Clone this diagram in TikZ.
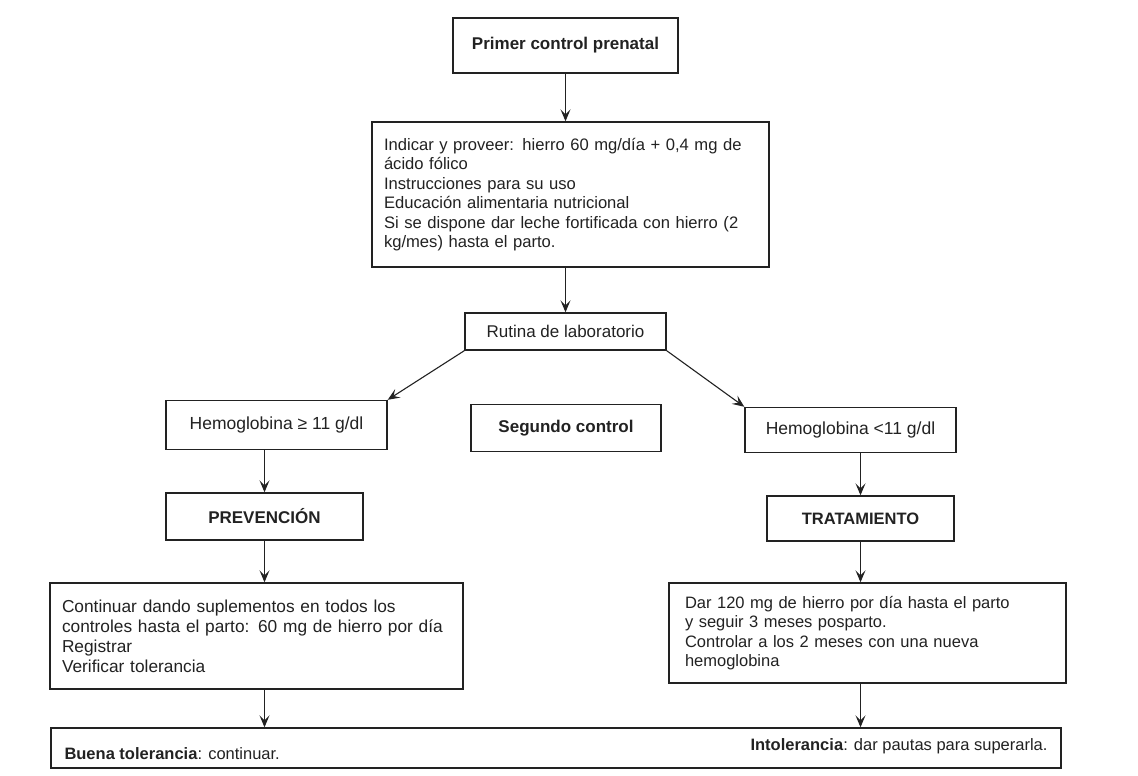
\documentclass[tikz,border=0pt]{standalone}
\usepackage{fontspec}
\setmainfont{Liberation Sans}
\usepackage{xcolor}
\usepackage{tikz}
\usetikzlibrary{arrows.meta, positioning}
\definecolor{inkgray}{RGB}{34,34,34}

\begin{document}
\begin{tikzpicture}[
  x=1pt, y=-1pt,
  flowbox/.style={rectangle, draw=inkgray, line width=1.4pt, inner sep=0pt, text=inkgray,
               font=\fontsize{17}{20}\selectfont},
  titlebox/.style={flowbox, font=\fontsize{17}{20}\selectfont\bfseries},
  listbox/.style={flowbox, align=left, inner xsep=12pt},
  labeltext/.style={text=inkgray, inner sep=0pt, font=\fontsize{16.5}{19}\selectfont},
  arrow/.style={-{Stealth[length=12pt, width=10pt, inset=5pt]}, line width=1.1pt, color=inkgray}
]
\useasboundingbox[fill=white] (0,0) rectangle (1138,776);

\node[titlebox, minimum width=225pt, minimum height=55pt] (primer) at (565.5,45.5) {Primer control prenatal};
\node[listbox, text width=373pt, minimum height=145pt, font=\fontsize{16.6}{19.5}\selectfont] (indicar) at (570.5,194.5)
  {Indicar y proveer: hierro 60 mg/día + 0,4 mg de\\ácido fólico\\Instrucciones para su uso\\Educación alimentaria nutricional\\Si se dispone dar leche fortificada con hierro (2\\kg/mes) hasta el parto.};
\node[flowbox, minimum width=201pt, minimum height=37pt] (rutina) at (565.5,331.5) {Rutina de laboratorio};

\node[flowbox, minimum width=221pt, minimum height=49pt, font=\fontsize{17.5}{20}\selectfont] (hemoA) at (276.5,425) {Hemoglobina ≥ 11 g/dl};
\node[titlebox, minimum width=190pt, minimum height=47pt] (segundo) at (566,428) {Segundo control};
\node[flowbox, minimum width=211pt, minimum height=45pt, font=\fontsize{17.5}{20}\selectfont] (hemoB) at (850.5,430) {Hemoglobina <11 g/dl};

\node[titlebox, minimum width=197pt, minimum height=47pt] (prevencion) at (264.5,516.5) {PREVENCIÓN};
\node[titlebox, minimum width=187pt, minimum height=45pt, font=\fontsize{16.5}{20}\selectfont\bfseries] (tratamiento) at (860.5,518.5) {TRATAMIENTO};

\node[listbox, text width=389pt, minimum height=106pt, font=\fontsize{17.3}{20}\selectfont] (continuar) at (256.5,636)
  {Continuar dando suplementos en todos los\\controles hasta el parto: 60 mg de hierro por día\\Registrar\\Verificar tolerancia};
\node[listbox, inner xsep=16pt, text width=365pt, minimum height=100pt, font=\fontsize{16.5}{19.3}\selectfont] (dar) at (867.5,633)
  {Dar 120 mg de hierro por día hasta el parto\\y seguir 3 meses posparto.\\Controlar a los 2 meses con una nueva\\hemoglobina};

\node[flowbox, minimum width=1010pt, minimum height=40pt] (final) at (556,748) {};
\node[labeltext, right=14pt of final.west, yshift=-6pt] (buena) {\textbf{Buena tolerancia}: continuar.};
\node[labeltext, left=14pt of final.east, yshift=2pt] (intol) {\textbf{Intolerancia}: dar pautas para superarla.};

\draw[arrow] (primer) -- (primer |- indicar.north);
\draw[arrow] (primer |- indicar.south) -- (primer |- rutina.north);
\draw[arrow] (rutina.south west) -- (hemoA.north east);
\draw[arrow] (rutina.south east) -- (hemoB.north west);
\draw[arrow] (prevencion.north |- hemoA.south) -- (prevencion);
\draw[arrow] (prevencion) -- (prevencion |- continuar.north);
\draw[arrow] (prevencion |- continuar.south) -- (prevencion |- final.north);
\draw[arrow] (tratamiento.north |- hemoB.south) -- (tratamiento);
\draw[arrow] (tratamiento) -- (tratamiento |- dar.north);
\draw[arrow] (tratamiento |- dar.south) -- (tratamiento |- final.north);

\end{tikzpicture}
\end{document}
